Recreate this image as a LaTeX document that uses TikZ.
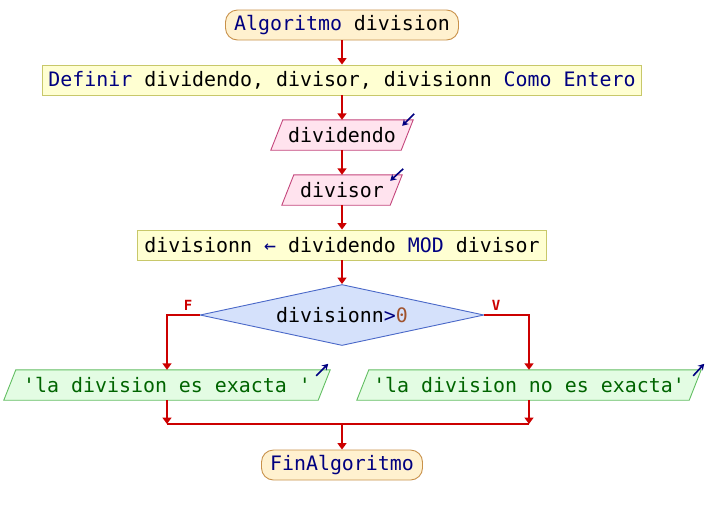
\documentclass[tikz,border=0pt]{standalone}
\usepackage{fontspec}
\setmainfont{DejaVu Sans Mono}[Ligatures=TeXOff]
\usetikzlibrary{shapes.geometric,arrows.meta,backgrounds}

\definecolor{flowred}{HTML}{CC0000}
\definecolor{kwblue}{HTML}{000080}
\definecolor{numbrown}{HTML}{A0522D}
\definecolor{termfill}{HTML}{FFF1CF}
\definecolor{termline}{HTML}{C8914A}
\definecolor{procfill}{HTML}{FFFFD2}
\definecolor{procline}{HTML}{C8C86A}
\definecolor{infill}{HTML}{FFE3EE}
\definecolor{inline}{HTML}{C4467C}
\definecolor{decfill}{HTML}{D5E1FB}
\definecolor{decline}{HTML}{4A68C8}
\definecolor{outfill}{HTML}{E3FCE3}
\definecolor{outline}{HTML}{62BE62}
\definecolor{outtext}{HTML}{006400}

\newcommand{\kw}[1]{\textcolor{kwblue}{#1}}

\tikzset{
  txt/.style={font=\fontsize{19.9}{22}\selectfont, inner sep=0pt, minimum height=30pt},
  term/.style={txt, draw=termline, fill=termfill, line width=0.9pt, rounded corners=12pt},
  proc/.style={txt, draw=procline, fill=procfill, line width=0.9pt},
  inbox/.style={txt},
  outbox/.style={txt, text=outtext},
  dec/.style={txt, diamond, aspect=4.66, draw=decline, fill=decfill, line width=0.9pt,
              minimum width=284pt, minimum height=61pt},
  inshape/.style={draw=inline, fill=infill, line width=0.9pt},
  outshape/.style={draw=outline, fill=outfill, line width=0.9pt},
  flow/.style={draw=flowred, line width=1.8pt, -{Triangle[width=9pt,length=6.5pt]}},
  plain/.style={draw=flowred, line width=1.8pt},
  io/.style={draw=kwblue, line width=1.6pt, -{Stealth[width=7pt,length=6pt]}},
  branch/.style={text=flowred, font=\fontsize{14}{16}\selectfont\bfseries, inner sep=0pt},
}

\begin{document}
\begin{tikzpicture}[x=1pt,y=-1pt]
\useasboundingbox (0,0) rectangle (708,515);

% main column
\node[term, minimum width=233pt] (start) at (342,25) {\kw{Algoritmo} division};
\node[proc, minimum width=599pt] (def) at (342,80) {\kw{Definir} dividendo, divisor, divisionn \kw{Como Entero}};
\node[inbox, minimum width=130pt] (in1) at (342,135) {dividendo};
\node[inbox, minimum width=108pt] (in2) at (342,190) {divisor};
\node[proc, minimum width=409pt] (asg) at (342,245) {divisionn \kw{←} dividendo \kw{MOD} divisor};
\node[dec] (cond) at (342,315) {divisionn\kw{>}\textcolor{numbrown}{0}};
\node[outbox, minimum width=314pt] (out1) at (167,385) {'la division es exacta '};
\node[outbox, minimum width=332pt] (out2) at (529,385) {'la division no es exacta'};
\node[term, minimum width=161pt] (end) at (342,465) {\kw{FinAlgoritmo}};

% branch labels
\node[branch] (lf) at (188,305) {F};
\node[branch] (lv) at (496,305) {V};

% parallelograms for input and output steps
\begin{scope}[on background layer]
  \foreach \n in {in1,in2}
    \path[inshape] ([xshift=-6pt]\n.south west) -- ([xshift=-6pt]\n.south east)
      -- ([xshift=6pt]\n.north east) -- ([xshift=6pt]\n.north west) -- cycle;
  \foreach \n in {out1,out2}
    \path[outshape] ([xshift=-6pt]\n.south west) -- ([xshift=-6pt]\n.south east)
      -- ([xshift=6pt]\n.north east) -- ([xshift=6pt]\n.north west) -- cycle;
\end{scope}

% read / write markers
\draw[io] ([xshift=7pt,yshift=6pt]in1.north east) -- ++(-12,12);
\draw[io] ([xshift=7pt,yshift=6pt]in2.north east) -- ++(-13,12);
\draw[io] ([xshift=-8pt,yshift=-6pt]out1.north east) -- ++(12,-12);
\draw[io] ([xshift=-2pt,yshift=-6pt]out2.north east) -- ++(11,-12);

% connectors
\draw[flow] (start) -- (def);
\draw[flow] (def) -- (in1);
\draw[flow] (in1) -- (in2);
\draw[flow] (in2) -- (asg);
\draw[flow] (asg) -- (cond);
\draw[flow] (cond.west) -| (out1.north);
\draw[flow] (cond.east) -| (out2.north);

\coordinate (join) at (342,424);
\draw[flow] (out1.south) -- (out1.south |- join);
\draw[flow] (out2.south) -- (out2.south |- join);
\draw[plain] (out1.south |- join) -- (out2.south |- join);
\draw[flow] (join) -- (end.north);
\end{tikzpicture}
\end{document}
